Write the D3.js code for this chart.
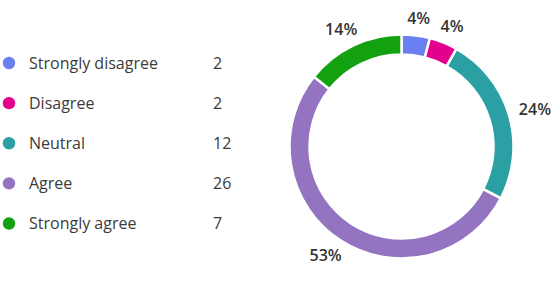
<!DOCTYPE html>
<html>
<head>
<meta charset="utf-8">
<script src="https://cdn.jsdelivr.net/npm/d3@7"></script>
<style>
  html, body { margin: 0; padding: 0; background: #fff; }
  svg { display: block; font-family: 'Open Sans', 'Noto Sans', sans-serif; }
</style>
</head>
<body>
<div id="chart"></div>
<script>
const categories = ['Strongly disagree', 'Disagree', 'Neutral', 'Agree', 'Strongly agree']
const counts = [2, 2, 12, 26, 7]
const colors = ['#6a7ff0', '#e3008c', '#2a9fa4', '#9474c0', '#14a10f']

const width = 560
const height = 286

const svg = d3.select('#chart')
  .append('svg')
  .attr('width', width)
  .attr('height', height)

// legend
const legendY = d3.scalePoint()
  .domain(categories)
  .range([63, 223.5])

const legend = svg.append('g')
  .selectAll('g')
  .data(categories)
  .join('g')
  .attr('transform', d => `translate(0, ${legendY(d)})`)

legend.append('circle')
  .attr('cx', 9)
  .attr('cy', 0)
  .attr('r', 6.2)
  .attr('fill', (d, i) => colors[i])

legend.append('text')
  .attr('x', 29)
  .attr('dy', '0.35em')
  .attr('font-size', 16)
  .attr('fill', '#3b3b3b')
  .text(d => d)

legend.append('text')
  .attr('x', 213)
  .attr('dy', '0.35em')
  .attr('font-size', 16)
  .attr('fill', '#3b3b3b')
  .text((d, i) => counts[i])

// donut
const cx = 401.5
const cy = 146.5
const outerR = 112
const innerR = 92

const total = d3.sum(counts)
const pie = d3.pie().sort(null).value(d => d)
const arcs = pie(counts)
const arc = d3.arc().innerRadius(innerR).outerRadius(outerR)

const g = svg.append('g')
  .attr('transform', `translate(${cx}, ${cy})`)

g.selectAll('path')
  .data(arcs)
  .join('path')
  .attr('d', arc)
  .attr('fill', (d, i) => colors[i])
  .attr('stroke', '#fff')
  .attr('stroke-width', 2.5)

const labelR = 123
g.selectAll('text')
  .data(arcs)
  .join('text')
  .attr('font-size', 16)
  .attr('font-weight', 600)
  .attr('fill', '#333')
  .attr('text-anchor', 'middle')
  .attr('dy', '0.35em')
  .text(d => Math.round(d.value / total * 100) + '%')
  .each(function(d) {
    const a = (d.startAngle + d.endAngle) / 2
    const bb = this.getBBox()
    const x = Math.sin(a) * labelR + Math.sin(a) * bb.width / 2
    const y = -Math.cos(a) * labelR - Math.cos(a) * 6.5
    d3.select(this).attr('x', x).attr('y', y)
  })
</script>
</body>
</html>
